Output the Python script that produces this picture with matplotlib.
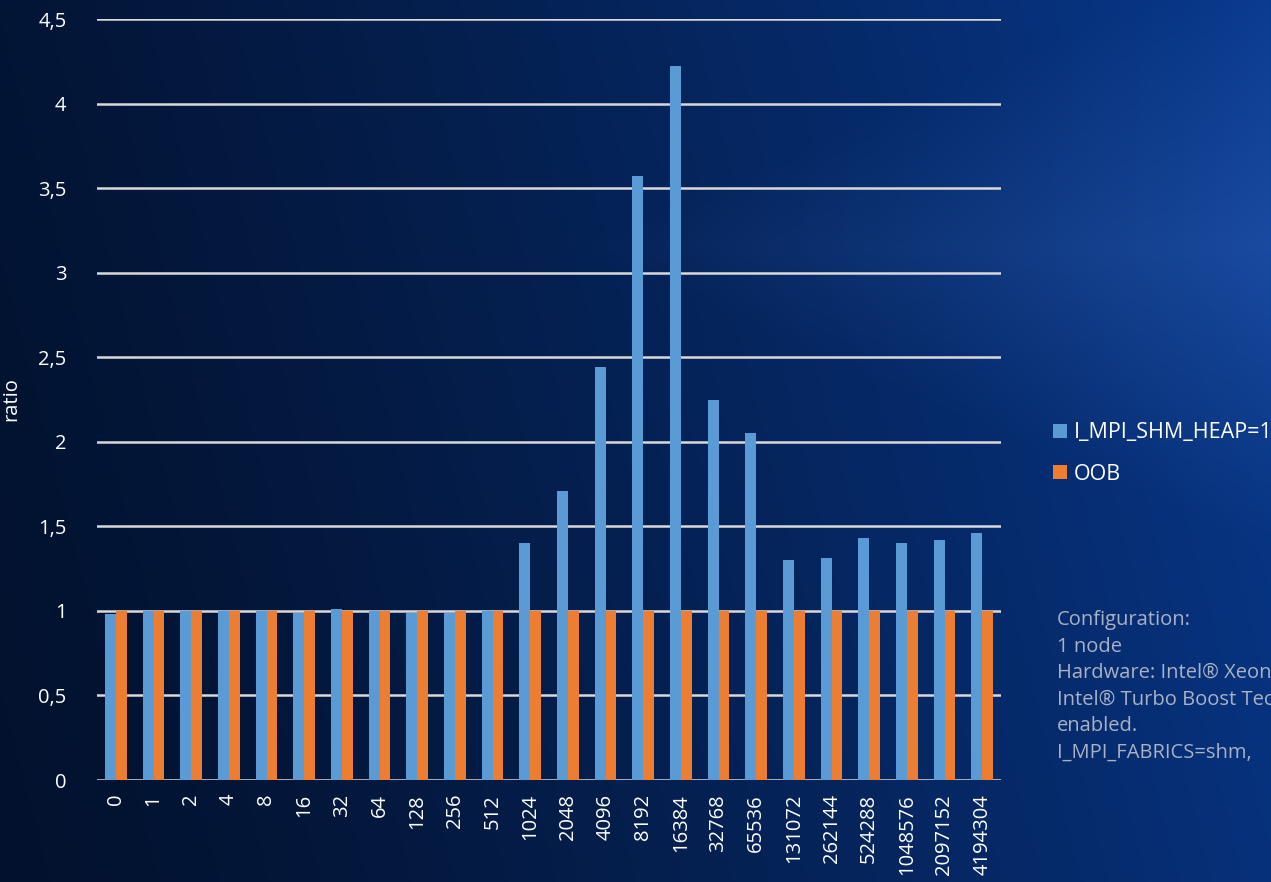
import numpy as np
import matplotlib
matplotlib.use("Agg")
import matplotlib.pyplot as plt

categories = ["0", "1", "2", "4", "8", "16", "32", "64", "128", "256", "512",
              "1024", "2048", "4096", "8192", "16384", "32768", "65536",
              "131072", "262144", "524288", "1048576", "2097152", "4194304"]
shm_heap = [0.98, 1.0, 1.0, 1.0, 1.0, 0.99, 1.01, 1.0, 0.99, 0.99, 1.0,
            1.40, 1.71, 2.44, 3.57, 4.22, 2.25, 2.05,
            1.30, 1.31, 1.43, 1.40, 1.42, 1.46]
oob = [1.0] * len(categories)
yticks = [0, 0.5, 1, 1.5, 2, 2.5, 3, 3.5, 4, 4.5]
ytick_labels = ["0", "0,5", "1", "1,5", "2", "2,5", "3", "3,5", "4", "4,5"]
# the configuration note runs off the right edge of the slide
config_lines = ["Configuration:", "1 node",
                "Hardware: Intel\u00ae Xeon",
                "Intel\u00ae Turbo Boost Tec",
                "enabled.", "I_MPI_FABRICS=shm,"]

plt.rcParams['font.family'] = ['Open Sans', 'DejaVu Sans']

W, H = 1271, 882
fig = plt.figure(figsize=(W / 100, H / 100), dpi=100)

# background: dark navy on the left, brighter blue towards the right
bg = fig.add_axes([0, 0, 1, 1], zorder=-10)
xx, yy = np.meshgrid(np.linspace(0, 1, 400), np.linspace(0, 1, 280))
t = np.clip(xx * 0.85 + (1 - yy) * 0.15, 0, 1) ** 1.3
c0 = np.array([0.01, 0.07, 0.18])
c1 = np.array([0.03, 0.22, 0.55])
img = c0[None, None, :] * (1 - t[..., None]) + c1[None, None, :] * t[..., None]
# faint light chevron in the upper right
d = np.abs(yy - 0.28) * 1.6 + (1 - xx) * 1.0
glow = np.clip(1 - d / 0.55, 0, 1) * 0.10
img = np.clip(img + glow[..., None] * np.array([0.7, 0.8, 1.0]), 0, 1)
bg.imshow(img, aspect='auto', extent=[0, 1, 0, 1], origin='upper')
bg.set_axis_off()

ax = fig.add_axes([97 / W, 1 - 780 / H, (1001 - 97) / W, (780 - 19) / H])
ax.set_facecolor('none')

x = np.arange(len(categories))
bw = 0.29
ax.bar(x - bw / 2, shm_heap, bw, color='#5B9BD5', label='I_MPI_SHM_HEAP=1', zorder=3)
ax.bar(x + bw / 2, oob, bw, color='#ED7D31', label='OOB', zorder=3)

ax.set_xlim(-0.5, len(categories) - 0.5)
ax.set_ylim(0, 4.5)
ax.set_yticks(yticks)
ax.set_yticklabels(ytick_labels)
ax.set_xticks(x)
ax.set_xticklabels(categories, rotation=90)
ax.tick_params(axis='both', colors='white', labelsize=14.5, length=0)
ax.tick_params(axis='y', pad=22)
ax.tick_params(axis='x', pad=10)
ax.grid(axis='y', color='#D9D9D9', linewidth=1.8, zorder=1)
for s in ax.spines.values():
    s.set_visible(False)
ax.set_ylabel('ratio', color='white', fontsize=14.5, labelpad=12)

leg = fig.legend(loc='upper left', bbox_to_anchor=(1034 / W, 1 - 403 / H),
                 frameon=False, fontsize=15.5, labelcolor='white',
                 handlelength=0.65, handleheight=0.65, handletextpad=0.3,
                 labelspacing=0.95)

for i, line in enumerate(config_lines):
    fig.text(1057 / W, 1 - (620 + i * 26.6) / H, line, color='#A9B1C4',
             fontsize=14.5, va='center', ha='left')

fig.savefig('out.png', dpi=100)
